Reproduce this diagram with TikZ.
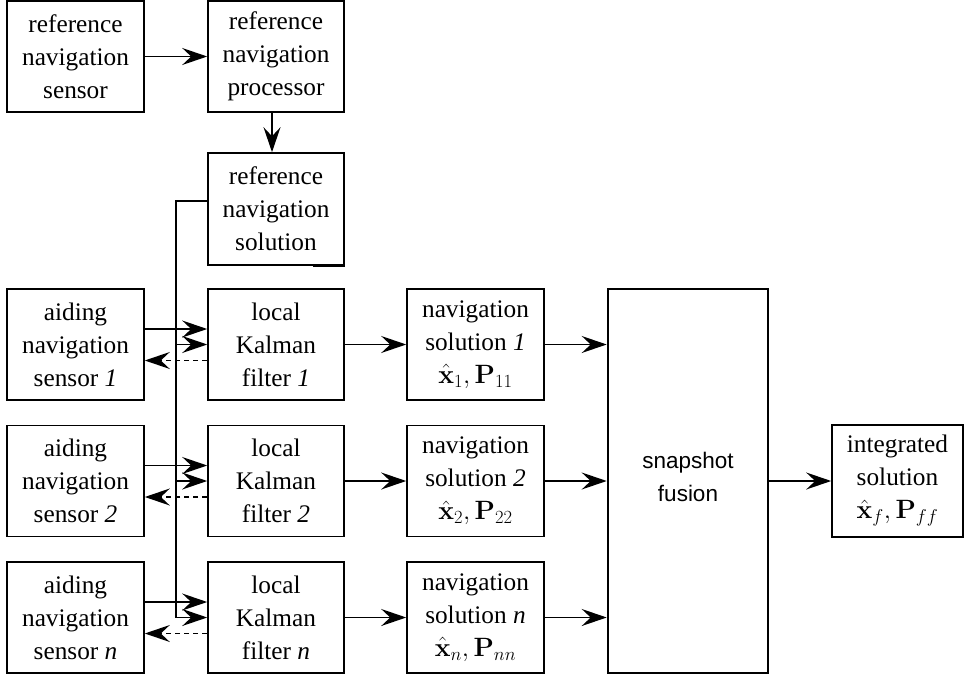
\documentclass[tikz,border=0pt]{standalone}
\usepackage{fix-cm}
\usepackage[no-math]{fontspec}
\setmainfont{Liberation Serif}
\setsansfont{Liberation Sans}
\usetikzlibrary{arrows.meta}
\newcommand{\estim}[1]{{\fontsize{26.5}{33}\selectfont$#1$}}
\begin{document}
\begin{tikzpicture}[x=1pt,y=-1pt,
  box/.style={draw, line width=1.6pt, minimum width=136pt, minimum height=111pt,
    inner sep=0pt, align=center, font=\rmfamily\fontsize{25.3}{33}\selectfont},
  wire/.style={line width=1.6pt},
  flow/.style={wire, -{Stealth[length=25pt,width=17pt,inset=9pt]}},
  back/.style={flow, dash pattern=on 5pt off 4pt},
]
\useasboundingbox (0,0) rectangle (964,677);

% reference navigation chain
\node[box, minimum width=137pt] (rsens) at (75.5,56.5) {reference\\navigation\\sensor};
\node[box] (rproc) at (276,56.5) {reference\\navigation\\processor};
\node[box, minimum height=112pt] (rsol) at (276,209) {reference\\navigation\\solution};
\draw[line width=2.6pt] ([xshift=-32pt]rsol.south east) -- (rsol.south east);

% one row per aiding sensor
\foreach \r/\y/\lab/\s/\ss in {1/344.5/1/1/11, 2/481/2/2/22, 3/617.5/n/n/nn} {
  \node[box, minimum width=137pt] (aid\r) at (75.5,\y) {aiding\\navigation\\sensor \textit{\lab}};
  \node[box] (kal\r) at (276,\y) {local\\Kalman\\filter \textit{\lab}};
  \node[box, minimum width=137pt] (nav\r) at (475.5,\y)
    {navigation\\solution \textit{\lab}\\\estim{\hat{\mathbf{x}}_{\s},\mathbf{P}_{\ss}}};
}

% fusion and result
\node[draw, line width=2.6pt, minimum width=160pt, minimum height=384pt, inner sep=0pt,
  align=center, text depth=8pt, font=\sffamily\fontsize{22.5}{33}\selectfont] (fus) at (688,481) {snapshot\\fusion};
\node[box, minimum width=131pt, minimum height=112pt] (intg) at (897.5,481)
  {integrated\\solution\\\estim{\hat{\mathbf{x}}_f,\mathbf{P}_{ff}}};

% connectors
\draw[flow] (rsens) -- (rproc);
\draw[flow] ([xshift=-4pt]rproc.south) -- ([xshift=-4pt]rsol.north);

\coordinate (bus) at (176,0);
\draw[flow] ([yshift=8.3pt]rsol.west) -| (bus |- kal3.west) -- (kal3.west);
\foreach \r in {1,2} {
  \draw[flow] (bus |- kal\r.west) -- (kal\r.west);
}
\foreach \r in {1,2,3} {
  \draw[flow] ([yshift=15.5pt]aid\r.east) -- ([yshift=15.5pt]kal\r.west);
  \draw[back] ([yshift=-16pt]kal\r.west) -- ([yshift=-16pt]aid\r.east);
  \draw[flow] (kal\r) -- (nav\r);
  \draw[flow] (nav\r) -- (nav\r -| fus.west);
}
\draw[flow] (fus) -- (intg);
\end{tikzpicture}
\end{document}
